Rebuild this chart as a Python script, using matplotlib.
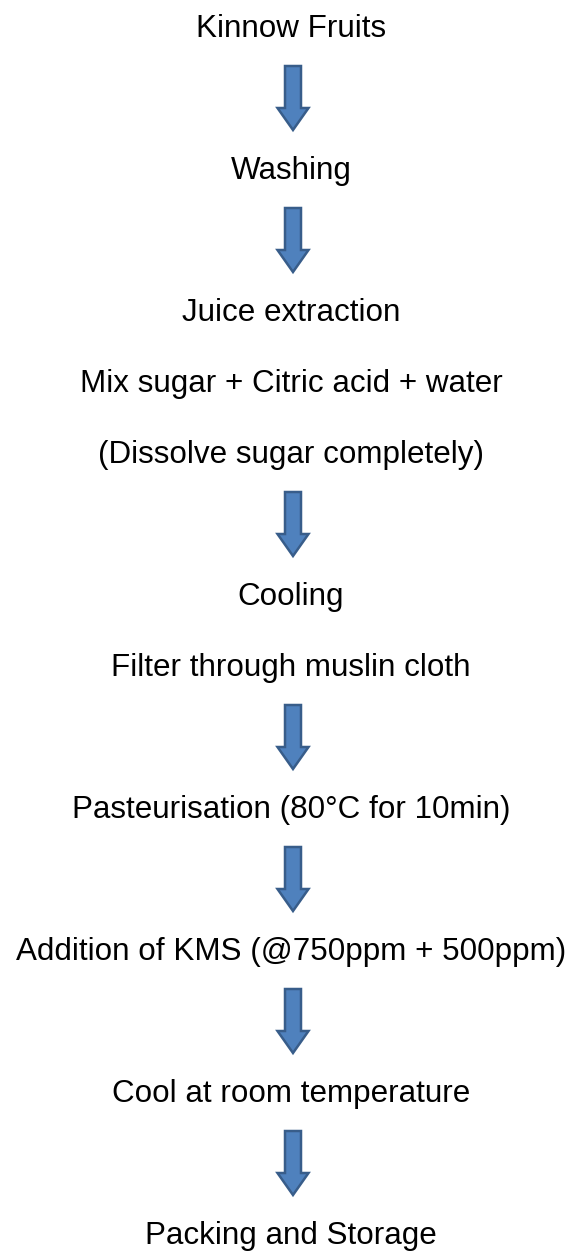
"""Kinnow juice processing flow chart."""
import matplotlib
matplotlib.use("Agg")
import matplotlib.pyplot as plt
from matplotlib.patches import Polygon

STEPS = [
    "Kinnow Fruits",
    "Washing",
    "Juice extraction",
    "Mix sugar + Citric acid + water",
    "(Dissolve sugar completely)",
    "Cooling",
    "Filter through muslin cloth",
    "Pasteurisation (80°C for 10min)",
    "Addition of KMS (@750ppm + 500ppm)",
    "Cool at room temperature",
    "Packing and Storage",
]
# whether a down arrow follows each step
ARROW_AFTER = [True, True, False, False, True, False, True, True, True, True, False]

FILL = "#4F81BD"
EDGE = "#385D8A"
W, H = 574, 1251

fig = plt.figure(figsize=(W / 100, H / 100), dpi=100, facecolor="white")
ax = fig.add_axes([0, 0, 1, 1])
ax.set_xlim(0, W); ax.set_ylim(H, 0)
ax.set_axis_off()

def down_arrow(cx, top, bottom):
    shaft_w, head_w, head_h = 16, 31, 22
    pts = [(cx - shaft_w / 2, top), (cx + shaft_w / 2, top),
           (cx + shaft_w / 2, bottom - head_h), (cx + head_w / 2, bottom - head_h),
           (cx, bottom), (cx - head_w / 2, bottom - head_h),
           (cx - shaft_w / 2, bottom - head_h)]
    ax.add_patch(Polygon(pts, closed=True, facecolor=FILL, edgecolor=EDGE,
                         linewidth=1.8, joinstyle="miter"))

y = 37          # baseline of first label
cx = 293
for label, arrow in zip(STEPS, ARROW_AFTER):
    ax.text(291, y, label, ha="center", va="baseline", fontsize=22.6,
            family=["Liberation Sans", "DejaVu Sans"], color="black")
    if arrow:
        down_arrow(cx, y + 29, y + 93)
        y += 142
    else:
        y += 71

fig.savefig("out.png", dpi=100, facecolor="white")
